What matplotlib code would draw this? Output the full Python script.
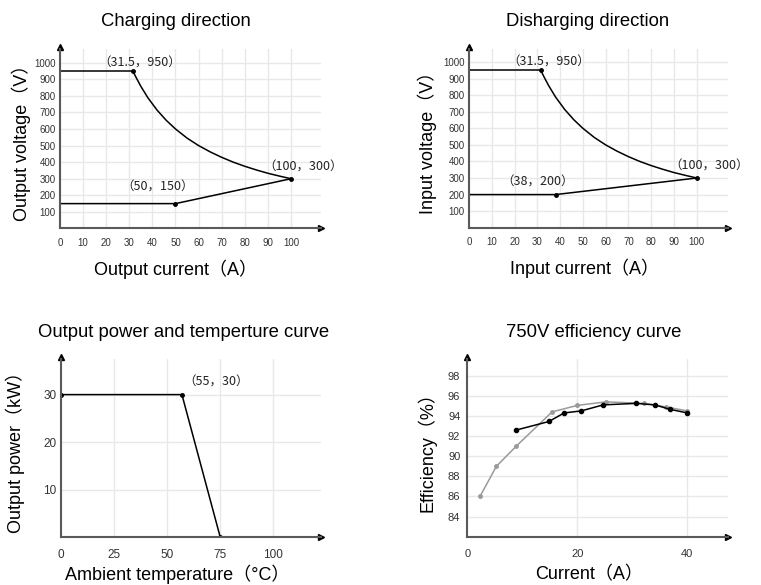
import matplotlib
matplotlib.use('Agg')
import matplotlib.pyplot as plt

plt.rcParams['font.family'] = ['Liberation Sans', 'Noto Sans CJK SC', 'DejaVu Sans']

# Charging direction
charge_top_i = [0, 31.5]
charge_top_v = [950, 950]
charge_curve_i = [31.5, 33, 35, 38, 42, 46, 50, 55, 60, 65, 70, 75, 80, 85, 90, 95, 100]
charge_curve_v = [950, 909, 857, 789, 714, 652, 600, 545, 500, 462, 429, 400, 375, 353, 333, 316, 300]
charge_low_i = [0, 50, 100]
charge_low_v = [150, 150, 300]

# Discharging direction
dis_top_i = [0, 31.5]
dis_top_v = [950, 950]
dis_curve_i = [31.5, 33, 35, 38, 42, 46, 50, 55, 60, 65, 70, 75, 80, 85, 90, 95, 100]
dis_curve_v = [950, 909, 857, 789, 714, 652, 600, 545, 500, 462, 429, 400, 375, 353, 333, 316, 300]
dis_low_i = [0, 38, 100]
dis_low_v = [200, 200, 300]

# Output power vs temperature
temp = [0, 57, 75]
power = [30, 30, 0]

# 750V efficiency
eff_grey_i = [2.3, 5.3, 8.9, 15.4, 20.0, 25.2, 32.1, 36.1, 40.0]
eff_grey = [86.0, 89.0, 91.0, 94.4, 95.05, 95.4, 95.25, 94.9, 94.5]
eff_black_i = [8.9, 14.85, 17.6, 20.7, 24.7, 30.7, 34.1, 36.9, 40.0]
eff_black = [92.6, 93.45, 94.3, 94.5, 95.1, 95.25, 95.1, 94.65, 94.3]

GRID = '#e8e8e8'
AXC = '#5a5a5a'
CJK = ['Noto Sans CJK SC', 'DejaVu Sans']

fig = plt.figure(figsize=(7.61, 5.85), dpi=100)


def px_rect(left, bottom, right, top):
    return [left / 761, (585 - bottom) / 585, (right - left) / 761, (bottom - top) / 585]


def style_axes(ax, tick_size, xpad, ypad):
    for s in ['top', 'right']:
        ax.spines[s].set_visible(False)
    for s in ['left', 'bottom']:
        ax.spines[s].set_color(AXC)
        ax.spines[s].set_linewidth(1.5)
    ax.grid(True, color=GRID, linewidth=1)
    ax.set_axisbelow(True)
    ax.tick_params(axis='both', length=0, labelsize=tick_size, labelcolor='#333333')
    ax.tick_params(axis='x', pad=xpad)
    ax.tick_params(axis='y', pad=ypad)
    ax.plot(1, 0, marker='>', color='black', ms=4, transform=ax.transAxes, clip_on=False)
    ax.plot(0, 1.01, marker='^', color='black', ms=4, transform=ax.transAxes, clip_on=False)


def note(ax, text, xy, dx, dy):
    ax.annotate(text, xy=xy, xytext=(dx, -dy), textcoords='offset pixels',
                ha='center', va='center', fontsize=9, family=CJK, color='#222222')


# ---- Charging direction
ax1 = fig.add_axes(px_rect(60, 228.5, 321, 49))
style_axes(ax1, 7, 7, 3)
ax1.plot(charge_top_i, charge_top_v, color='black', lw=1.1)
ax1.plot(charge_curve_i, charge_curve_v, color='black', lw=1.1)
ax1.plot(charge_low_i, charge_low_v, color='black', lw=1.1)
ax1.plot([31.5, 100, 50], [950, 300, 150], 'o', color='black', ms=2.5)
ax1.set_xlim(0, 113)
ax1.set_ylim(0, 1082)
ax1.set_xticks(range(0, 101, 10))
ax1.set_yticks(range(100, 1001, 100))
ax1.set_xlabel('Output current（A）', fontsize=13, va='baseline')
ax1.xaxis.set_label_coords((176 - 60) / 261, (228.5 - 275) / 179.5)
ax1.set_ylabel('Output voltage（V）', fontsize=13, va='center')
ax1.yaxis.set_label_coords((21 - 60) / 261, 0.5)
note(ax1, '（31.5，950）', (31.5, 950), 7, -8)
note(ax1, '（100，300）', (100, 300), 12, -12)
note(ax1, '（50，150）', (50, 150), -18, -16)
fig.text(176 / 761, 1 - 26 / 585, 'Charging direction', ha='center', va='baseline', fontsize=13.3)

# ---- Discharging direction
ax2 = fig.add_axes(px_rect(469, 227.7, 728, 49))
style_axes(ax2, 7, 7, 3)
ax2.plot(dis_top_i, dis_top_v, color='black', lw=1.1)
ax2.plot(dis_curve_i, dis_curve_v, color='black', lw=1.1)
ax2.plot(dis_low_i, dis_low_v, color='black', lw=1.1)
ax2.plot([31.5, 100, 38], [950, 300, 200], 'o', color='black', ms=2.5)
ax2.set_xlim(0, 113.7)
ax2.set_ylim(0, 1079)
ax2.set_xticks(range(0, 101, 10))
ax2.set_yticks(range(100, 1001, 100))
ax2.set_xlabel('Input current（A）', fontsize=13, va='baseline')
ax2.xaxis.set_label_coords((585 - 469) / 259, (227.7 - 274.5) / 178.7)
ax2.set_ylabel('Input voltage（V）', fontsize=13, va='center')
ax2.yaxis.set_label_coords((427 - 469) / 259, 0.5)
note(ax2, '（31.5，950）', (31.5, 950), 8, -8)
note(ax2, '（100，300）', (100, 300), 12, -12)
note(ax2, '（38，200）', (38, 200), -18, -12)
fig.text(588 / 761, 1 - 26 / 585, 'Disharging direction', ha='center', va='baseline', fontsize=13.3)

# ---- Output power and temperature
ax3 = fig.add_axes(px_rect(60.7, 537, 321, 359))
style_axes(ax3, 8.5, 9, 3)
ax3.plot(temp, power, color='black', lw=1.1, marker='o', ms=2.5)
ax3.set_xlim(0, 122.4)
ax3.set_ylim(0, 37.5)
ax3.set_xticks([0, 25, 50, 75, 100])
ax3.set_yticks([10, 20, 30])
ax3.set_xlabel('Ambient temperature（°C）', fontsize=13, va='baseline')
ax3.xaxis.set_label_coords((177.5 - 60.7) / 260.3, (537 - 580.5) / 178)
ax3.set_ylabel('Output power（kW）', fontsize=13, va='center')
ax3.yaxis.set_label_coords((15 - 60.7) / 260.3, 0.5)
note(ax3, '（55，30）', (57, 30), 34, -12)
fig.text(183.5 / 761, 1 - 336.7 / 585, 'Output power and temperture curve', ha='center', va='baseline', fontsize=13.3)

# ---- 750V efficiency
ax4 = fig.add_axes(px_rect(467.3, 536.7, 728.3, 359))
style_axes(ax4, 8, 9, 5)
ax4.plot(eff_grey_i, eff_grey, color='#9a9a9a', lw=1.1, marker='o', ms=2.5)
ax4.plot(eff_black_i, eff_black, color='black', lw=1.1, marker='o', ms=3)
ax4.set_xlim(0, 47.45)
ax4.set_ylim(82, 99.66)
ax4.set_xticks([0, 20, 40])
ax4.set_yticks(range(84, 99, 2))
ax4.set_xlabel('Current（A）', fontsize=13, va='baseline')
ax4.xaxis.set_label_coords((589 - 467.3) / 261, (536.7 - 579.5) / 177.7)
ax4.set_ylabel('Efficiency（%）', fontsize=13, va='center')
ax4.yaxis.set_label_coords((427 - 467.3) / 261, 0.5)
fig.text(593.5 / 761, 1 - 336.7 / 585, '750V efficiency curve', ha='center', va='baseline', fontsize=13.3)

fig.savefig('out.png', dpi=100)
